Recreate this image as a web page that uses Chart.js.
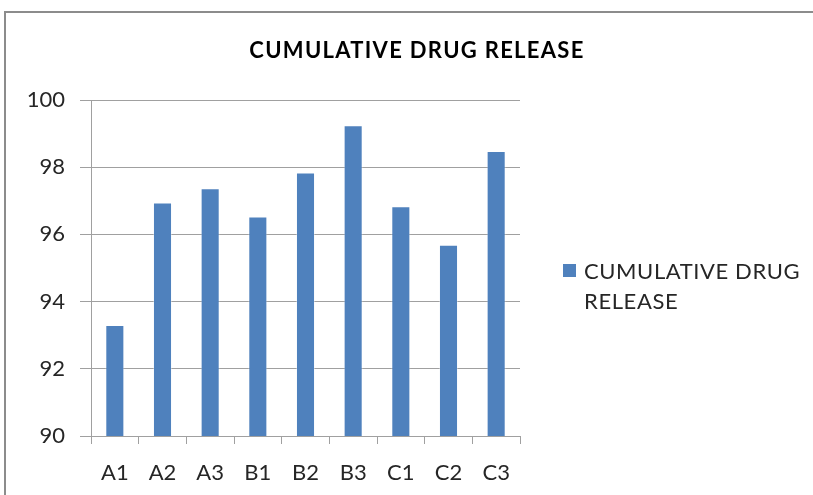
<!DOCTYPE html>
<html>
<head>
<meta charset="utf-8">
<script src="https://cdn.jsdelivr.net/npm/chart.js@4/dist/chart.umd.min.js"></script>
<style>
  html, body { margin: 0; padding: 0; background: #fff; overflow: hidden; }
  #wrap { position: relative; width: 813px; height: 495px; }
  #frame { position: absolute; left: 4px; top: 11px; width: 820px; height: 500px;
           border: 2px solid #8c8c8c; box-sizing: border-box; }
  canvas { position: absolute; left: 0; top: 0; }
</style>
</head>
<body>
<div id="wrap">
  <div id="frame"></div>
  <canvas id="c" width="813" height="495"></canvas>
</div>
<script>
const chartTitle = 'CUMULATIVE DRUG RELEASE';
const seriesName = 'CUMULATIVE DRUG RELEASE';
const legendLines = ['CUMULATIVE DRUG', 'RELEASE'];
const categories = ['A1', 'A2', 'A3', 'B1', 'B2', 'B3', 'C1', 'C2', 'C3'];
const releaseValues = [93.3, 96.95, 97.37, 96.53, 97.84, 99.25, 96.84, 95.69, 98.48];
const yTicks = [90, 92, 94, 96, 98, 100];

const barColor = '#4f81bd';
const axisGray = '#a0a0a0';
const textColor = '#262626';
const fontFamily = 'Lato, "Open Sans", sans-serif';

// Title and side legend are painted on the canvas by this plugin
const decorPlugin = {
  id: 'decor',
  afterDraw(chart) {
    const ctx = chart.ctx;
    ctx.save();
    ctx.fillStyle = '#000';
    ctx.font = 'bold 22px ' + fontFamily;
    ctx.letterSpacing = '1.3px';
    ctx.textAlign = 'center';
    ctx.textBaseline = 'middle';
    ctx.fillText(chartTitle, 417, 51);

    // legend swatch + wrapped label
    ctx.fillStyle = chart.data.datasets[0].backgroundColor;
    ctx.fillRect(563, 264, 13, 13);
    ctx.fillStyle = textColor;
    ctx.font = '22px ' + fontFamily;
    ctx.letterSpacing = '0.6px';
    ctx.textAlign = 'left';
    legendLines.forEach((line, i) => ctx.fillText(line, 584, 272 + i * 30));
    ctx.restore();
  }
};

new Chart(document.getElementById('c'), {
  type: 'bar',
  data: {
    labels: categories,
    datasets: [{
      label: seriesName,
      data: releaseValues,
      backgroundColor: barColor,
      borderColor: 'rgba(255,255,255,0.35)',
      borderWidth: 1,
      barPercentage: 0.4,
      categoryPercentage: 1.0
    }]
  },
  options: {
    responsive: false,
    animation: false,
    devicePixelRatio: 1,
    layout: { padding: { left: 0, right: 293, top: 100, bottom: 0 } },
    plugins: {
      legend: { display: false },
      title: { display: false },
      tooltip: { enabled: false }
    },
    scales: {
      x: {
        offset: true,
        grid: {
          offset: true,
          drawOnChartArea: false,
          drawTicks: true,
          tickLength: 8,
          color: axisGray,
          lineWidth: 1
        },
        border: { display: true, color: axisGray, width: 1 },
        ticks: {
          color: textColor,
          font: { family: fontFamily, size: 22 },
          padding: 16,
          maxRotation: 0
        },
        afterFit(scale) { scale.height = 59; }
      },
      y: {
        min: 90,
        max: 100,
        afterBuildTicks(scale) { scale.ticks = yTicks.map(v => ({ value: v })); },
        grid: {
          color: axisGray,
          lineWidth: 1,
          drawTicks: true,
          tickLength: 11
        },
        border: { display: true, color: axisGray, width: 1 },
        ticks: {
          color: textColor,
          font: { family: fontFamily, size: 22 },
          padding: 15
        },
        afterFit(scale) { scale.width = 91; }
      }
    }
  },
  plugins: [decorPlugin]
});
</script>
</body>
</html>
